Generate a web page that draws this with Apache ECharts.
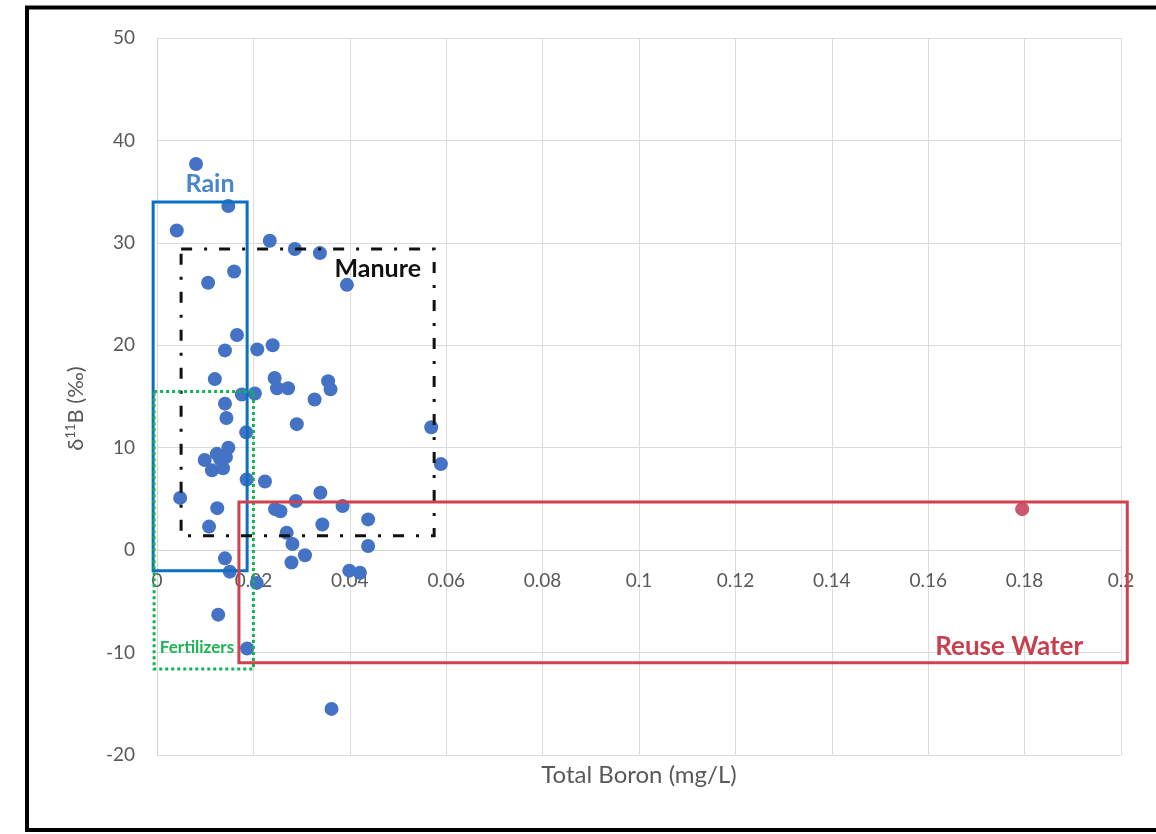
<!DOCTYPE html>
<html><head><meta charset="utf-8">
<script src="https://cdn.jsdelivr.net/npm/echarts@6/dist/echarts.min.js"></script>
<style>html,body{margin:0;padding:0;background:#fff}#c{width:1156px;height:834px}</style>
</head><body><div id="c"></div>
<script>
// ---- data ----
const boronX = [0.0081,0.0148,0.0041,0.0234,0.0286,0.0338,0.0160,0.0106,0.0394,0.0166,
  0.0141,0.0208,0.0240,0.0120,0.0244,0.0249,0.0272,0.0355,0.0360,0.0176,
  0.0203,0.0327,0.0141,0.0144,0.0290,0.0185,0.0569,0.0589,0.0099,0.0114,
  0.0131,0.0148,0.0137,0.0124,0.0143,0.0186,0.0224,0.0048,0.0125,0.0245,
  0.0256,0.0288,0.0339,0.0385,0.0438,0.0108,0.0343,0.0269,0.0281,0.0307,
  0.0279,0.0438,0.0141,0.0151,0.0399,0.0421,0.0207,0.0127,0.0187,0.0362];
const delta11B = [37.7,33.6,31.2,30.2,29.4,29.0,27.2,26.1,25.9,21.0,
  19.5,19.6,20.0,16.7,16.8,15.8,15.8,16.5,15.7,15.2,
  15.3,14.7,14.3,12.9,12.3,11.5,12.0,8.4,8.8,7.8,
  8.9,10.0,8.0,9.4,9.1,6.9,6.7,5.1,4.1,4.0,
  3.8,4.8,5.6,4.3,3.0,2.3,2.5,1.7,0.6,-0.5,
  -1.2,0.4,-0.8,-2.1,-2.0,-2.2,-3.2,-6.3,-9.6,-15.5];
const reuseX = [0.1795];
const reuseY = [4.0];

const boxNames = ['Rain','Manure','Fertilizers','Reuse Water'];
const boxX1 = [-0.0008, 0.0050, -0.0006, 0.0170];
const boxX2 = [0.0187, 0.0575, 0.0200, 0.2013];
const boxY1 = [-2.0, 1.4, -11.6, -11.0];
const boxY2 = [34.0, 29.4, 15.5, 4.7];
const labelX = [0.0110, 0.0458, 0.0083, 0.1768];
const labelY = [35.8, 27.5, -9.5, -9.4];

const xMin = 0, xMax = 0.2, xStep = 0.02;
const yMin = -20, yMax = 50, yStep = 10;
const xCross = 0; // x axis crosses the y axis at this value

// ---- styles ----
const FONT = 'Lato, "Open Sans", sans-serif';
const boxStyles = [
  {stroke:'#0a70c4', lineWidth:3, lineDash:null, text:'#4a86cc', size:25},
  {stroke:'#111111', lineWidth:3, lineDash:[11,12,3,12], text:'#111111', size:25},
  {stroke:'#11b455', lineWidth:3, lineDash:[3,3], text:'#1cb450', size:17},
  {stroke:'#d0404e', lineWidth:3, lineDash:null, text:'#c8404e', size:26}
];

const chart = echarts.init(document.getElementById('c'), null, {renderer:'canvas'});
const boxData = boxNames.map((n,i)=>[boxX1[i], boxX2[i], boxY1[i], boxY2[i], labelX[i], labelY[i]]);

const option = {
  animation:false,
  backgroundColor:'#ffffff',
  textStyle:{fontFamily:FONT},
  grid:{left:157, right:35, top:38, bottom:79, containLabel:false, outerBoundsMode:'none'},
  xAxis:{
    type:'value', min:xMin, max:xMax, interval:xStep, position:'bottom', offset:0,
    axisLine:{onZero:false, lineStyle:{color:'#d4d4d4', width:1}},
    axisTick:{show:false},
    axisLabel:{color:'#595959', fontSize:19, margin:21, fontFamily:FONT,
      formatter:v=>String(Math.round(v*100)/100)},
    splitLine:{show:true, lineStyle:{color:'#dcdcdc', width:1}},
    name:'Total Boron (mg/L)', nameLocation:'middle', nameGap:213,
    nameTextStyle:{color:'#595959', fontSize:24, fontFamily:FONT}
  },
  yAxis:{
    type:'value', min:yMin, max:yMax, interval:yStep,
    axisLine:{show:true, onZero:false, lineStyle:{color:'#d4d4d4', width:1}},
    axisTick:{show:false},
    axisLabel:{color:'#595959', fontSize:19, margin:22, fontFamily:FONT},
    splitLine:{show:true, lineStyle:{color:'#dcdcdc', width:1}},
    name:'{a|δ}{s|11}{a|B (‰)}', nameLocation:'middle', nameGap:70, nameRotate:90,
    nameTextStyle:{color:'#595959', padding:[0,24,0,0], rich:{
      a:{fontSize:22, color:'#595959', fontFamily:FONT},
      s:{fontSize:13, color:'#595959', fontFamily:FONT, verticalAlign:'top', padding:[0,0,10,0]}
    }}
  },
  graphic:[{
    type:'rect', silent:true, z:100,
    shape:{x:27, y:7.5, width:1200, height:822.5},
    style:{fill:'none', stroke:'#000', lineWidth:4}
  }],
  series:[
    {type:'scatter', symbol:'circle', symbolSize:14, z:2,
     itemStyle:{color:'#4472c4', opacity:1},
     data:boronX.map((x,i)=>[x, delta11B[i]])},
    {type:'scatter', symbol:'circle', symbolSize:14, z:2,
     itemStyle:{color:'#c0304a'},
     data:reuseX.map((x,i)=>[x, reuseY[i]])},
    {type:'custom', z:5, clip:false,
     data:boxData,
     renderItem:function(params, api){
       const i = params.dataIndex, st = boxStyles[i];
       const tl = api.coord([api.value(0), api.value(3)]);
       const br = api.coord([api.value(1), api.value(2)]);
       const lp = api.coord([api.value(4), api.value(5)]);
       return {type:'group', children:[
         {type:'rect', shape:{x:tl[0], y:tl[1], width:br[0]-tl[0], height:br[1]-tl[1]},
          style:{fill:'none', stroke:st.stroke, lineWidth:st.lineWidth, lineDash:st.lineDash}},
         {type:'text', x:lp[0], y:lp[1],
          style:{text:boxNames[i], fill:st.text, fontSize:st.size, fontWeight:'bold',
                 fontFamily:FONT, align:'center', verticalAlign:'middle'}}
       ]};
     }}
  ]
};
chart.setOption(option);
// place the x axis where y = xCross (through the library's own scale)
const yCrossPx = chart.convertToPixel({yAxisIndex:0}, xCross);
const yBottomPx = chart.convertToPixel({yAxisIndex:0}, yMin);
chart.setOption({xAxis:{offset: yCrossPx - yBottomPx}});
</script></body></html>
